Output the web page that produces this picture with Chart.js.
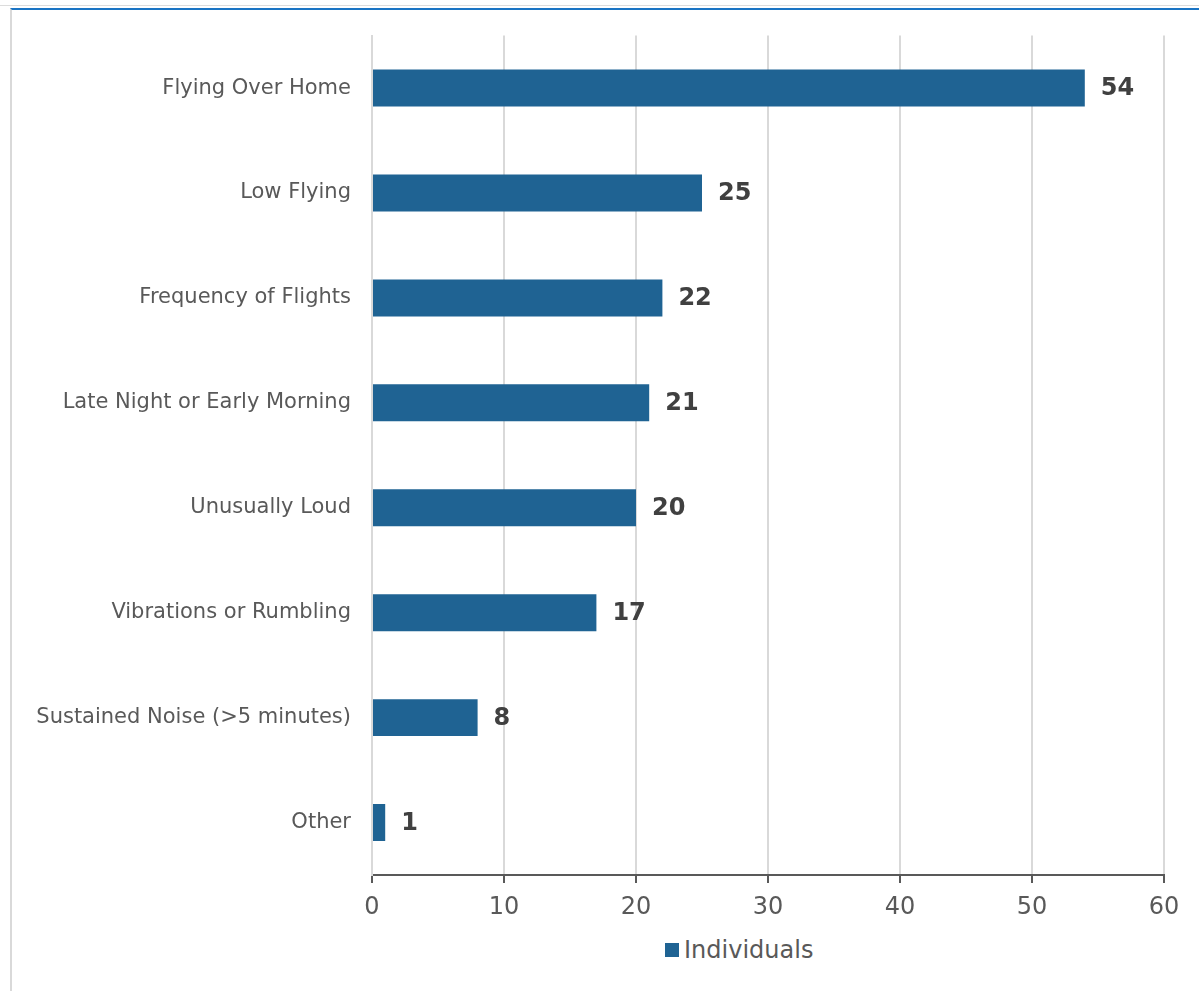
<!DOCTYPE html>
<html>
<head>
<meta charset="utf-8">
<script src="https://cdn.jsdelivr.net/npm/chart.js@4.4.1/dist/chart.umd.min.js"></script>
<style>
  html, body { margin: 0; padding: 0; background: #fff; }
  body { width: 1199px; height: 991px; position: relative; overflow: hidden; font-family: "DejaVu Sans", Verdana, sans-serif; }
  .topline { position: absolute; left: 0; top: 5px; width: 1199px; height: 1px; background: #dcdcdc; }
  .frame { position: absolute; left: 10px; top: 8px; width: 1189px; height: 983px; border-top: 2px solid #1a74c4; border-left: 2px solid #d9d9d9; box-sizing: border-box; }
  .wrap { position: absolute; left: 11px; top: 10px; width: 1188px; height: 920px; }
  .legend { position: absolute; left: 665px; top: 936px; font-size: 24px; color: #595959; display: flex; align-items: center; }
  .legend span.box { display: inline-block; width: 14px; height: 14px; background: #1f6393; margin-right: 5px; }
</style>
</head>
<body>
<div class="topline"></div>
<div class="frame"></div>
<div class="wrap"><canvas id="chart"></canvas></div>
<div class="legend"><span class="box"></span><span id="legendText"></span></div>
<script>
const categories = [
    "Flying Over Home",
    "Low Flying",
    "Frequency of Flights",
    "Late Night or Early Morning",
    "Unusually Loud",
    "Vibrations or Rumbling",
    "Sustained Noise (>5 minutes)",
    "Other"
];
const individuals = [54, 25, 22, 21, 20, 17, 8, 1];
const seriesName = "Individuals";
const xTicks = [0, 10, 20, 30, 40, 50, 60];

document.getElementById("legendText").textContent = seriesName;

const valueLabels = {
    id: "valueLabels",
    afterDatasetsDraw(chart) {
        const ctx = chart.ctx;
        const meta = chart.getDatasetMeta(0);
        ctx.save();
        ctx.font = "bold 24px 'DejaVu Sans', Verdana, sans-serif";
        ctx.fillStyle = "#404040";
        ctx.textAlign = "left";
        ctx.textBaseline = "middle";
        meta.data.forEach((bar, i) => {
            ctx.fillText(String(individuals[i]), bar.x + 16, bar.y + 1);
        });
        ctx.restore();
    }
};

new Chart(document.getElementById("chart"), {
    type: "bar",
    data: {
        labels: categories,
        datasets: [{
            label: seriesName,
            data: individuals,
            backgroundColor: "#1f6393",
            borderWidth: 0,
            barPercentage: 0.352,
            categoryPercentage: 1
        }]
    },
    options: {
        indexAxis: "y",
        responsive: true,
        maintainAspectRatio: false,
        animation: false,
        layout: { padding: { top: 19, right: 35, left: 0, bottom: 0 } },
        plugins: {
            legend: { display: false },
            tooltip: { enabled: false }
        },
        scales: {
            x: {
                min: 0,
                max: 60,
                afterBuildTicks: axis => { axis.ticks = xTicks.map(v => ({ value: v })); },
                afterFit: axis => { axis.height = 55; },
                grid: {
                    color: "#d9d9d9",
                    lineWidth: 2,
                    tickColor: "#595959",
                    tickLength: 8,
                    drawTicks: true
                },
                border: { color: "#595959", width: 2 },
                ticks: {
                    color: "#595959",
                    padding: 10,
                    font: { family: "'DejaVu Sans', Verdana, sans-serif", size: 24 }
                }
            },
            y: {
                afterFit: axis => { axis.width = 361; },
                grid: { display: false },
                border: { color: "#d9d9d9", width: 2 },
                ticks: {
                    color: "#595959",
                    padding: 13,
                    font: { family: "'DejaVu Sans', Verdana, sans-serif", size: 21 }
                }
            }
        }
    },
    plugins: [valueLabels]
});
</script>
</body>
</html>
